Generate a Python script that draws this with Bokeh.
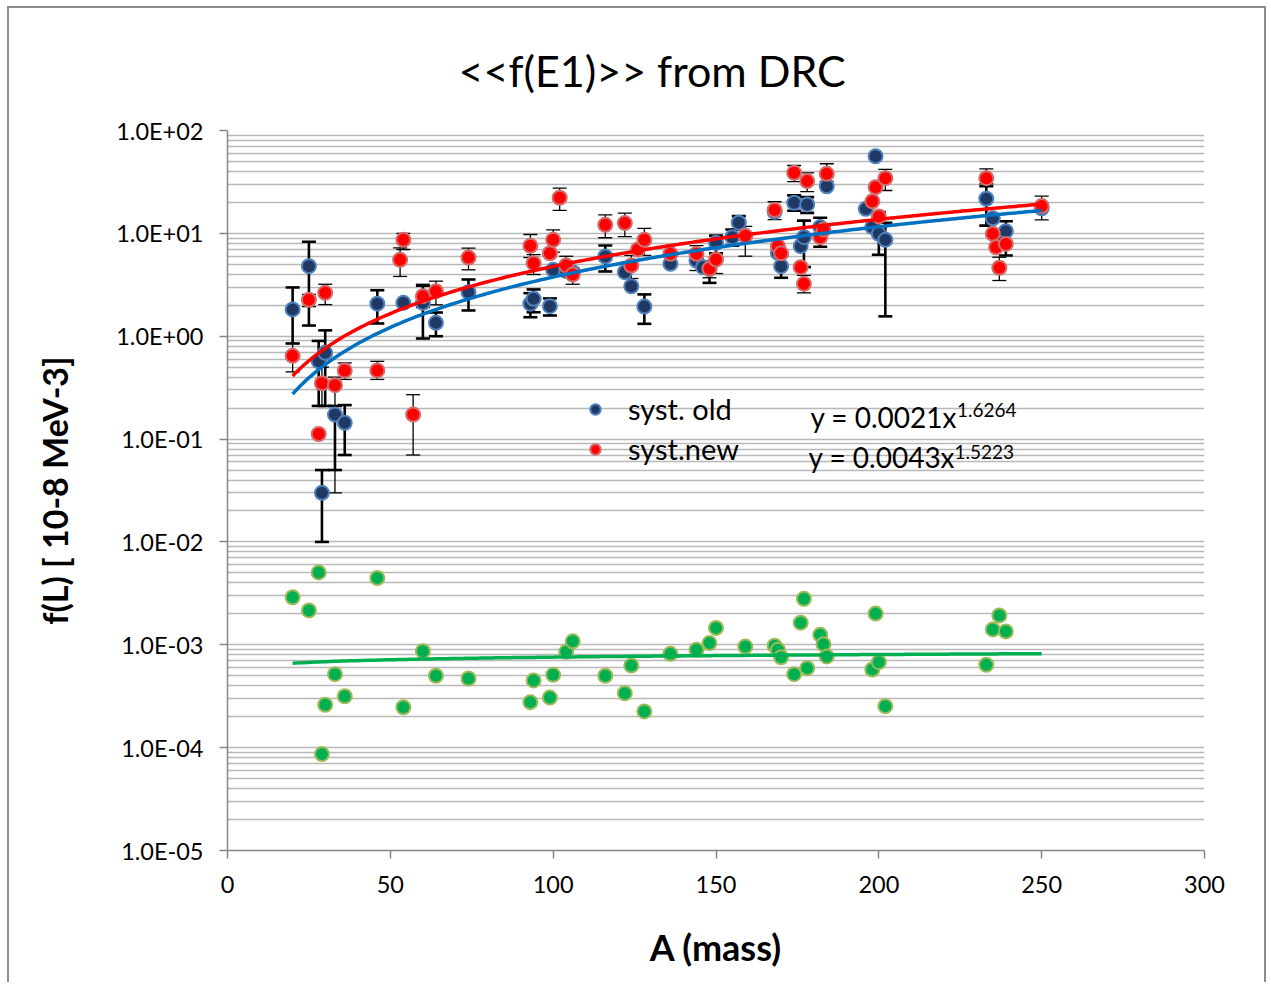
import numpy as np
from bokeh.plotting import figure
from bokeh.models import (ColumnDataSource, Whisker, TeeHead, FixedTicker,
                          CustomJSTickFormatter, Label, Legend, LegendItem)
from bokeh.embed import file_html
from bokeh.resources import INLINE

FONT = "Lato"

# ---------------- data ----------------
# syst. old (blue)
old_mass = [20, 25, 28, 29, 30, 33, 36, 46, 54, 60, 64, 74, 93, 94, 99, 100, 104, 106,
            116, 122, 124, 128, 136, 144, 146, 148, 150, 155, 157, 168, 169, 170, 174,
            176, 177, 178, 182, 184, 196, 198, 199, 200, 202, 233, 235, 237, 239, 250]
old_val = [1.82, 4.8, 0.57, 0.030, 0.69, 0.173, 0.144, 2.07, 2.11, 2.11, 1.35, 2.68,
           2.07, 2.31, 1.96, 4.42, 4.3, 4.19, 5.96, 4.19, 3.06, 1.94, 5.06, 5.45, 4.69,
           4.5, 8.09, 9.18, 12.7, 16.2, 6.47, 4.8, 19.8, 7.5, 9.18, 19.1, 11.5, 28.7,
           17.3, 11.5, 56.2, 9.9, 8.65, 21.7, 14.0, 9.5, 10.5, 17.5]
old_lo = [0.85, 1.27, 0.21, 0.01, 0.21, 0.05, 0.07, 1.33, None, 0.95, 1.0, 1.78,
          1.53, 1.71, 1.59, None, None, None, 4.26, None, None, 1.32, None, None, None,
          3.3, 6.4, 7.6, 10.9, None, None, 3.7, 16.6, None, 4.7, 15.8, 7.4, None,
          None, None, None, 6.2, 1.56, 11.9, None, None, 6.1, None]
old_hi = [2.98, 8.3, 0.9, 0.05, 1.14, 0.21, 0.214, 2.8, None, 3.1, 1.7, 3.56,
          2.62, 2.85, 2.33, None, None, None, 7.62, None, None, 2.55, None, None, None,
          5.2, 9.5, 10.9, 14.7, None, None, 6.0, 23.4, None, 13.3, 22.5, 14.2, None,
          None, None, None, 16.1, 12.7, 28.7, None, None, 13.1, None]

# syst.new (red)
new_mass = [20, 25, 28, 29, 30, 33, 36, 46, 53, 54, 57, 60, 64, 74, 93, 94, 99, 100,
            102, 104, 106, 116, 122, 124, 126, 128, 136, 144, 148, 150, 159, 168, 169,
            170, 174, 176, 177, 178, 182, 183, 184, 198, 199, 200, 202, 233, 235, 236,
            237, 239, 250]
new_val = [0.645, 2.26, 0.112, 0.349, 2.64, 0.334, 0.464, 0.465, 5.53, 8.65, 0.173,
           2.45, 2.74, 5.82, 7.57, 5.13, 6.41, 8.65, 22.2, 4.87, 3.98, 12.1, 12.6, 4.87,
           6.97, 8.65, 6.33, 6.33, 4.52, 5.57, 9.47, 16.9, 7.5, 6.41, 38.8, 4.69, 3.23,
           32.2, 9.18, 10.9, 37.9, 20.5, 28.1, 14.6, 34.4, 34.4, 9.9, 7.33, 4.63, 7.9,
           18.4]
new_lo = [0.45, 1.94, None, 0.21, 2.03, 0.03, 0.38, 0.38, 3.81, 6.97, 0.07, 1.9, 2.02,
          4.42, 5.82, 3.98, None, 6.57, 16.7, 3.98, 3.2, 9.06, 9.3, 3.64, None, 6.1,
          None, 4.35, 3.7, 4.07, 6.0, 13.6, None, None, 31.9, None, 2.64, 25.5, None,
          None, 32.0, None, None, None, 26.1, 30.3, None, None, 3.48, None, 13.5]
new_hi = [0.85, 2.55, None, 0.5, 3.2, 0.40, 0.55, 0.57, 7.24, 10.0, 0.27, 3.2, 3.43,
          7.17, 9.75, 6.22, None, 10.8, 27.5, 5.99, 4.6, 15.1, 15.7, 6.1, None, 11.2,
          None, 7.6, 5.4, 6.37, 11.7, 20.3, None, None, 45.7, None, 3.9, 38.8, None,
          None, 47.5, None, None, None, 41.8, 42.4, None, None, 5.86, None, 23.0]

# third (green) series
grn_mass = [20, 25, 28, 29, 30, 33, 36, 46, 54, 60, 64, 74, 93, 94, 99, 100, 104, 106,
            116, 122, 124, 128, 136, 144, 148, 150, 159, 168, 169, 170, 174, 176, 177,
            178, 182, 183, 184, 198, 199, 200, 202, 233, 235, 237, 239]
grn_val = [0.0029, 0.00216, 0.00505, 8.65e-5, 2.61e-4, 5.18e-4, 3.16e-4, 0.00445,
           2.47e-4, 8.67e-4, 5.0e-4, 4.7e-4, 2.77e-4, 4.5e-4, 3.07e-4, 5.1e-4, 8.55e-4,
           1.08e-3, 5.0e-4, 3.38e-4, 6.29e-4, 2.25e-4, 8.17e-4, 8.94e-4, 1.04e-3,
           1.46e-3, 9.6e-4, 9.8e-4, 8.94e-4, 7.57e-4, 5.18e-4, 1.64e-3, 2.8e-3, 5.93e-4,
           1.25e-3, 1.01e-3, 7.7e-4, 5.75e-4, 2.01e-3, 6.78e-4, 2.53e-4, 6.4e-4,
           1.41e-3, 1.93e-3, 1.35e-3]

# power-law trend lines (coefficients shown on the chart)
old_fit = (0.0021, 1.6264)
new_fit = (0.0043, 1.5223)
fit_range = (20, 250)

y_decades = [1e-5, 1e-4, 1e-3, 1e-2, 1e-1, 1e0, 1e1, 1e2]
x_ticks = [0, 50, 100, 150, 200, 250, 300]

# ---------------- figure ----------------
p = figure(width=1259, height=976, x_range=(0, 300), y_range=(1e-5, 1e2),
           y_axis_type="log", output_backend="svg", toolbar_location=None,
           min_border_left=218, min_border_right=64, min_border_top=122,
           min_border_bottom=134, background_fill_color="white",
           border_fill_color="white")
p.styles = {"border-left": "2px solid #8c8c8c", "border-top": "2px solid #8c8c8c",
            "border-right": "2px solid #8c8c8c", "margin-left": "7px",
            "margin-top": "6px"}
p.outline_line_color = None

p.title.text = "<<f(E1)>> from DRC"
p.title.align = "left"
p.title.offset = 231
p.title.vertical_align = "top"
p.title.text_font = FONT
p.title.text_font_size = "43px"
p.title.text_font_style = "normal"
p.title.text_color = "black"
p.title.standoff = 66

minor = [m * d for d in y_decades[:-1] for m in range(2, 10)]
p.yaxis.ticker = FixedTicker(ticks=y_decades, minor_ticks=minor)
p.yaxis.formatter = CustomJSTickFormatter(code="""
const e = Math.round(Math.log10(tick));
const a = Math.abs(e);
return '1.0E' + (e < 0 ? '-' : '+') + (a < 10 ? '0' : '') + a;
""")
p.xaxis.ticker = FixedTicker(ticks=x_ticks)

for ax in (p.xaxis, p.yaxis):
    ax.axis_line_color = "#868686"
    ax.axis_line_width = 1.5
    ax.major_tick_line_color = "#868686"
    ax.major_tick_line_width = 1.5
    ax.major_tick_out = 8
    ax.major_tick_in = 0
    ax.minor_tick_line_color = None
    ax.major_label_text_font = FONT
    ax.major_label_text_font_size = "23.5px"
    ax.major_label_text_color = "black"
    ax.axis_label_text_font = FONT
    ax.axis_label_text_font_style = "bold"
    ax.axis_label_text_color = "black"

p.yaxis.major_label_standoff = 16
p.xaxis.major_label_standoff = 17
p.yaxis.axis_label = "f(L) [ 10-8 MeV-3]"
p.yaxis.axis_label_text_font_size = "34px"
p.yaxis.axis_label_standoff = 38
p.xaxis.axis_label = "A (mass)"
p.xaxis.axis_label_text_font_size = "36px"
p.xaxis.axis_label_standoff = 29

p.xgrid.grid_line_color = None
p.ygrid.grid_line_color = "#b8b8b8"
p.ygrid.grid_line_width = 1.6
p.ygrid.minor_grid_line_color = "#b8b8b8"
p.ygrid.minor_grid_line_width = 1.6


def err_source(mass, lo, hi):
    rows = [(m, l, h) for m, l, h in zip(mass, lo, hi) if l is not None]
    return ColumnDataSource(dict(x=[r[0] for r in rows],
                                 lo=[r[1] for r in rows],
                                 hi=[r[2] for r in rows]))


for mass, lo, hi, lw in ((old_mass, old_lo, old_hi, 2.6), (new_mass, new_lo, new_hi, 1.3)):
    w = Whisker(source=err_source(mass, lo, hi), base="x", lower="lo", upper="hi",
                dimension="height", line_color="black", line_width=lw, level="underlay",
                upper_head=TeeHead(size=14, line_color="black", line_width=lw),
                lower_head=TeeHead(size=14, line_color="black", line_width=lw))
    p.add_layout(w)

src_old = ColumnDataSource(dict(x=old_mass, y=old_val))
src_new = ColumnDataSource(dict(x=new_mass, y=new_val))
src_grn = ColumnDataSource(dict(x=grn_mass, y=grn_val))

r_old = p.scatter("x", "y", source=src_old, size=14, fill_color="#1F3864",
                  line_color="#4F81BD", line_width=2)
r_new = p.scatter("x", "y", source=src_new, size=14, fill_color="#FF0000",
                  line_color="#D46A6A", line_width=2)
r_grn = p.scatter("x", "y", source=src_grn, size=14, fill_color="#00B050",
                  line_color="#9BBB59", line_width=2)

xf = np.linspace(fit_range[0], fit_range[1], 200)
p.line(xf, old_fit[0] * xf ** old_fit[1], line_color="#0070C0", line_width=3.5)
p.line(xf, new_fit[0] * xf ** new_fit[1], line_color="#FF0000", line_width=3.5)
gb, ga = np.polyfit(np.log(grn_mass), np.log(grn_val), 1)
p.line(xf, np.exp(ga) * xf ** gb, line_color="#00B050", line_width=3.5)

legend = Legend(items=[LegendItem(label="syst. old", renderers=[r_old]),
                       LegendItem(label="syst.new", renderers=[r_new])],
                location=(355, 384), orientation="vertical",
                border_line_color=None, background_fill_alpha=0,
                label_text_font=FONT, label_text_font_size="29px",
                label_text_color="black",
                glyph_width=26, glyph_height=30, label_height=30, spacing=5,
                padding=0, margin=0, label_standoff=20)
p.add_layout(legend)

# equations
p.add_layout(Label(x=179.0, y=0.163, text="y = 0.0021x", text_baseline="middle",
                   text_font=FONT, text_font_size="28px", text_color="black"))
p.add_layout(Label(x=224.0, y=0.1897, text="1.6264", text_baseline="middle",
                   text_font=FONT, text_font_size="19px", text_color="black"))
p.add_layout(Label(x=178.4, y=0.0662, text="y = 0.0043x", text_baseline="middle",
                   text_font=FONT, text_font_size="28px", text_color="black"))
p.add_layout(Label(x=223.2, y=0.0757, text="1.5223", text_baseline="middle",
                   text_font=FONT, text_font_size="19px", text_color="black"))

open("out.html", "w").write(file_html(p, INLINE))
